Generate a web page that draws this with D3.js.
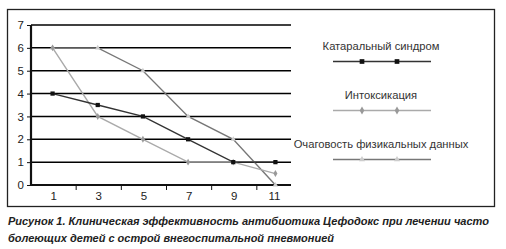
<!DOCTYPE html>
<html>
<head>
<meta charset="utf-8">
<script src="https://cdn.jsdelivr.net/npm/d3@7"></script>
<style>
  body { margin: 0; background: #fff; }
  text { font-family: "Liberation Sans", Arial, sans-serif; }
</style>
</head>
<body>
<div id="chart"></div>
<script>
// data
var days = ["1", "3", "5", "7", "9", "11"];
var yTicks = [0, 1, 2, 3, 4, 5, 6, 7];
var catarrhal = [4, 3.5, 3, 2, 1, 1];
var intoxication = [6, 3, 2, 1, 1, 0.5];
var focality = [6, 6, 5, 3, 2, 0];
var seriesNames = ["Катаральный синдром", "Интоксикация", "Очаговость физикальных данных"];
var caption1 = "Рисунок 1. Клиническая эффективность антибиотика Цефодокс при лечении часто";
var caption2 = "болеющих детей с острой внегоспитальной пневмонией";

var w = 506, h = 249;
var svg = d3.select("#chart").append("svg")
  .attr("width", w)
  .attr("height", h);

// outer frame
svg.append("rect")
  .attr("x", 7.5).attr("y", 9.5)
  .attr("width", 487).attr("height", 197)
  .attr("fill", "none")
  .attr("stroke", "#222")
  .attr("stroke-width", 1.3);

var plotLeft = 31, plotRight = 291, plotTop = 25, plotBottom = 185;

var xScale = d3.scaleBand()
  .domain(days)
  .range([plotLeft, 302]);

var yScale = d3.scaleLinear()
  .domain([0, 7])
  .range([plotBottom, plotTop]);

// gridlines
svg.selectAll(".grid")
  .data(yTicks.filter(d => d > 0))
  .enter().append("line")
  .attr("x1", plotLeft).attr("x2", plotRight)
  .attr("y1", d => yScale(d)).attr("y2", d => yScale(d))
  .attr("stroke", "#000")
  .attr("stroke-width", 1.5);

// y axis
var yAxis = svg.append("g")
  .attr("transform", "translate(" + plotLeft + ",0)")
  .call(d3.axisLeft(yScale).tickValues(yTicks).tickFormat(d3.format("d")).tickSize(4).tickPadding(3));
yAxis.select(".domain").remove();
yAxis.selectAll(".tick line").attr("stroke", "#111");
yAxis.selectAll("text").attr("font-size", "11.5px").attr("fill", "#222")
  .attr("font-family", "Liberation Sans, Arial, sans-serif");
svg.append("line")
  .attr("x1", plotLeft).attr("x2", plotLeft)
  .attr("y1", plotTop).attr("y2", plotBottom + 1)
  .attr("stroke", "#111").attr("stroke-width", 2.2);

// x axis: ticks between the categories
var edges = days.slice(1).map(d => xScale(d));
svg.selectAll(".xtick")
  .data(edges)
  .enter().append("line")
  .attr("x1", d => d).attr("x2", d => d)
  .attr("y1", plotBottom).attr("y2", plotBottom + 5)
  .attr("stroke", "#111");
svg.append("line")
  .attr("x1", plotLeft - 1).attr("x2", plotRight)
  .attr("y1", plotBottom).attr("y2", plotBottom)
  .attr("stroke", "#111").attr("stroke-width", 2.2);
svg.selectAll(".xlab")
  .data(days)
  .enter().append("text")
  .attr("x", d => xScale(d) + xScale.bandwidth() / 2 - (d === "11" ? 5 : 0))
  .attr("y", plotBottom + 15)
  .attr("text-anchor", "middle")
  .attr("font-size", "11.5px")
  .attr("fill", "#222")
  .text(d => d);

var cx = (d, i) => xScale(days[i]) + xScale.bandwidth() / 2 - (i === 5 ? 4 : 1);
var line = d3.line()
  .x(cx)
  .y(d => yScale(d));

var series = [
  { name: seriesNames[0], values: catarrhal, color: "#333", marker: "square", mcolor: "#111" },
  { name: seriesNames[1], values: intoxication, color: "#aaa", marker: "diamond", mcolor: "#999" },
  { name: seriesNames[2], values: focality, color: "#777", marker: "triangle", mcolor: "#ccc" }
];

var symbols = { square: d3.symbolSquare, diamond: d3.symbolDiamond, triangle: d3.symbolTriangle };
var sizes = { square: 18, diamond: 14, triangle: 12 };

// draw back to front
[2, 1, 0].forEach(function(k) {
  var s = series[k];
  svg.append("path")
    .datum(s.values)
    .attr("d", line)
    .attr("fill", "none")
    .attr("stroke", s.color)
    .attr("stroke-width", 1.4);
  svg.selectAll(".m" + k)
    .data(s.values)
    .enter().append("path")
    .attr("transform", (d, i) => "translate(" + cx(d, i) + "," + yScale(d) + ")")
    .attr("d", d3.symbol().type(symbols[s.marker]).size(sizes[s.marker]))
    .attr("fill", s.mcolor);
});

// legend
var legend = svg.selectAll(".legend")
  .data(series)
  .enter().append("g")
  .attr("transform", (d, i) => "translate(0," + (i * 49) + ")");
legend.append("text")
  .attr("x", 381)
  .attr("y", 50)
  .attr("text-anchor", "middle")
  .attr("font-size", "11.2px")
  .attr("fill", "#333")
  .text(d => d.name);
legend.append("line")
  .attr("x1", 333).attr("x2", 431)
  .attr("y1", 61.5).attr("y2", 61.5)
  .attr("stroke", d => d.color)
  .attr("stroke-width", 1.4);
[362, 397].forEach(function(mx) {
  legend.append("path")
    .attr("transform", "translate(" + mx + ",61.5)")
    .attr("d", d => d3.symbol().type(symbols[d.marker]).size(sizes[d.marker] + 4)())
    .attr("fill", d => d.mcolor);
});

// caption
[caption1, caption2].forEach(function(t, i) {
  svg.append("text")
    .attr("x", 8).attr("y", 225 + i * 17)
    .attr("font-size", "11px")
    .attr("font-weight", "bold")
    .attr("font-style", "italic")
    .attr("fill", "#222")
    .attr("textLength", i === 0 ? 481 : 326)
    .attr("lengthAdjust", "spacingAndGlyphs")
    .text(t);
});
</script>
</body>
</html>
